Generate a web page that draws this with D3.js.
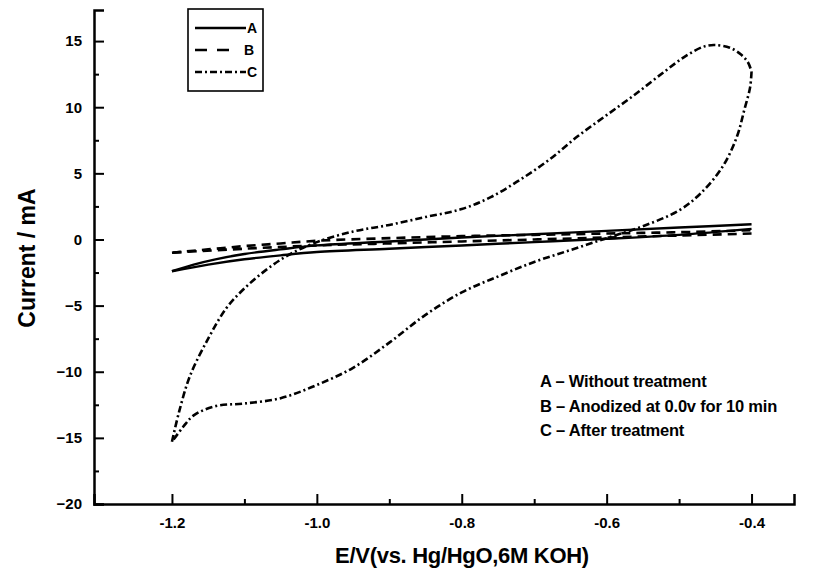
<!DOCTYPE html>
<html>
<head>
<meta charset="utf-8">
<script src="https://cdn.jsdelivr.net/npm/d3@7"></script>
<style>
  body { margin: 0; background: #fff; }
  text { font-family: 'Liberation Sans', Arial, sans-serif; font-weight: bold; fill: #000; }
</style>
</head>
<body>
<script>
const wid = 824, hei = 575;     // width & height

// each scan: [E/V, I/mA]; forward = -1.2 -> -0.4, reverse = back again
// A - without treatment
const aForward = [
    [-1.20, -2.4], [-1.17, -1.9], [-1.14, -1.5], [-1.10, -1.1], [-1.05, -0.75],
    [-1.00, -0.45], [-0.90, -0.15], [-0.80, 0.15], [-0.70, 0.4], [-0.60, 0.65],
    [-0.50, 0.9], [-0.40, 1.15]
];
const aReverse = [
    [-0.40, 0.8], [-0.50, 0.35], [-0.60, 0.05], [-0.70, -0.2], [-0.80, -0.45],
    [-0.90, -0.7], [-1.00, -0.95], [-1.05, -1.2], [-1.10, -1.5], [-1.15, -1.9],
    [-1.20, -2.4]
];

// B - anodized at 0.0v for 10 min
const bForward = [
    [-1.20, -1.0], [-1.15, -0.75], [-1.10, -0.5], [-1.05, -0.3], [-1.00, -0.1],
    [-0.90, 0.1], [-0.80, 0.25], [-0.70, 0.35], [-0.60, 0.45], [-0.50, 0.55],
    [-0.40, 0.7]
];
const bReverse = [
    [-0.40, 0.45], [-0.50, 0.3], [-0.60, 0.15], [-0.70, 0.0], [-0.80, -0.15],
    [-0.90, -0.3], [-1.00, -0.45], [-1.10, -0.7], [-1.20, -1.0]
];

// C - after treatment
const cForward = [
    [-1.200, -15.3], [-1.190, -13.0], [-1.175, -10.3], [-1.150, -7.5], [-1.125, -5.2],
    [-1.100, -3.7], [-1.070, -2.3], [-1.040, -1.2], [-1.000, -0.2], [-0.950, 0.6],
    [-0.900, 1.1], [-0.850, 1.7], [-0.800, 2.3], [-0.760, 3.2], [-0.720, 4.5],
    [-0.680, 6.0], [-0.640, 7.8], [-0.600, 9.4], [-0.560, 11.0], [-0.520, 12.7],
    [-0.490, 13.9], [-0.465, 14.6], [-0.450, 14.7], [-0.430, 14.5], [-0.415, 14.0],
    [-0.405, 13.4], [-0.400, 12.7]
];
const cReverse = [
    [-0.400, 12.7], [-0.402, 11.5], [-0.410, 9.8], [-0.420, 7.8], [-0.440, 5.5],
    [-0.470, 3.5], [-0.500, 2.2], [-0.550, 1.0], [-0.600, 0.1], [-0.650, -0.8],
    [-0.700, -1.7], [-0.750, -2.8], [-0.800, -4.0], [-0.850, -5.7], [-0.900, -7.8],
    [-0.950, -9.7], [-1.000, -11.0], [-1.050, -12.0], [-1.100, -12.4], [-1.140, -12.6],
    [-1.170, -13.3], [-1.185, -14.2], [-1.200, -15.3]
];

const xTicks = [-1.2, -1.0, -0.8, -0.6, -0.4];
const xTickLabels = ['-1.2', '-1.0', '-0.8', '-0.6', '-0.4'];
const xMinor = [-1.1, -0.9, -0.7, -0.5];
const yTicks = [15, 10, 5, 0, -5, -10, -15, -20];
const yMinor = [12.5, 7.5, 2.5, -2.5, -7.5, -12.5, -17.5];

const legendKeys = ['A', 'B', 'C'];
const notes = ['A \u2013 Without treatment', 'B \u2013 Anodized at 0.0v for 10 min', 'C \u2013 After treatment'];

// line styles
const dashes = {A: null, B: '9,6', C: '7,3,2,3'};

let x = d3.scaleLinear().domain([-1.3076, -0.3414]).range([94, 794]);
let y = d3.scaleLinear().domain([-20, 17.35]).range([504, 10]);

let svgPlot = d3.select('body')
    .append('svg')
    .attr('width', wid)
    .attr('height', hei);

let line = d3.line()
    .x((d) => x(d[0]))
    .y((d) => y(d[1]))
    .curve(d3.curveCatmullRom.alpha(0.5));

// curves, one path per scan direction
const scans = [
    ['A', aForward], ['A', aReverse],
    ['B', bForward], ['B', bReverse],
    ['C', cForward], ['C', cReverse]
];
svgPlot.selectAll('path.cv')
    .data(scans)
    .enter()
    .append('path')
    .attr('class', 'cv')
    .attr('d', (d) => line(d[1]))
    .attr('fill', 'none')
    .attr('stroke', '#000')
    .attr('stroke-width', (d) => d[0] == 'A' ? 2.4 : 2.6)
    .attr('stroke-dasharray', (d) => dashes[d[0]]);

// axes
let xAxis = svgPlot.append('g')
    .attr('transform', `translate(0,${y(-20)})`)
    .call(d3.axisBottom(x).tickValues(xTicks).tickSize(-10).tickFormat((d, i) => xTickLabels[i]));
let xAxisMinor = svgPlot.append('g')
    .attr('transform', `translate(0,${y(-20)})`)
    .call(d3.axisBottom(x).tickValues(xMinor).tickSize(-5).tickFormat(''));
let yAxis = svgPlot.append('g')
    .attr('transform', `translate(${x.range()[0]},0)`)
    .call(d3.axisLeft(y).tickValues(yTicks).tickSize(-10).tickFormat(d3.format('d')));
let yAxisMinor = svgPlot.append('g')
    .attr('transform', `translate(${x.range()[0]},0)`)
    .call(d3.axisLeft(y).tickValues(yMinor).tickSize(-5).tickFormat(''));

xAxisMinor.select('.domain').remove();
yAxisMinor.select('.domain').remove();
svgPlot.selectAll('.domain').attr('stroke-width', 2.5).attr('stroke', '#000');
svgPlot.selectAll('.tick line').attr('stroke-width', 2).attr('stroke', '#000');

xAxis.selectAll('text')
    .attr('font-size', 15)
    .attr('dy', null)
    .attr('y', 24);
yAxis.selectAll('text')
    .attr('font-size', 15)
    .attr('x', -12);

// axis titles
svgPlot.append('text')
    .attr('x', 462)
    .attr('y', 563)
    .attr('text-anchor', 'middle')
    .attr('font-size', 22)
    .attr('letter-spacing', -0.3)
    .text('E/V(vs. Hg/HgO,6M KOH)');

svgPlot.append('text')
    .attr('transform', 'translate(35,258) rotate(-90)')
    .attr('text-anchor', 'middle')
    .attr('font-size', 23)
    .text('Current  / mA');

// legend box
svgPlot.append('rect')
    .attr('x', 188).attr('y', 9)
    .attr('width', 75).attr('height', 82)
    .attr('fill', 'none')
    .attr('stroke', '#000')
    .attr('stroke-width', 1.6);

let legend = svgPlot.selectAll('g.leg')
    .data(legendKeys)
    .enter()
    .append('g')
    .attr('class', 'leg')
    .attr('transform', (d, i) => `translate(0,${28 + i * 22})`);
legend.append('line')
    .attr('x1', 195).attr('x2', (d) => d == 'B' ? 232 : 246)
    .attr('y1', 0).attr('y2', 0)
    .attr('stroke', '#000')
    .attr('stroke-width', 2.4)
    .attr('stroke-dasharray', (d) => d == 'B' ? '12,10' : dashes[d]);
legend.append('text')
    .attr('x', (d) => d == 'B' ? 244 : 247)
    .attr('y', 5)
    .attr('font-size', 14)
    .text((d) => d);

// annotations
svgPlot.selectAll('text.note')
    .data(notes)
    .enter()
    .append('text')
    .attr('class', 'note')
    .attr('x', 540)
    .attr('y', (d, i) => 387 + i * 24.5)
    .attr('font-size', 16.5)
    .attr('letter-spacing', -0.2)
    .text((d) => d);
</script>
</body>
</html>
